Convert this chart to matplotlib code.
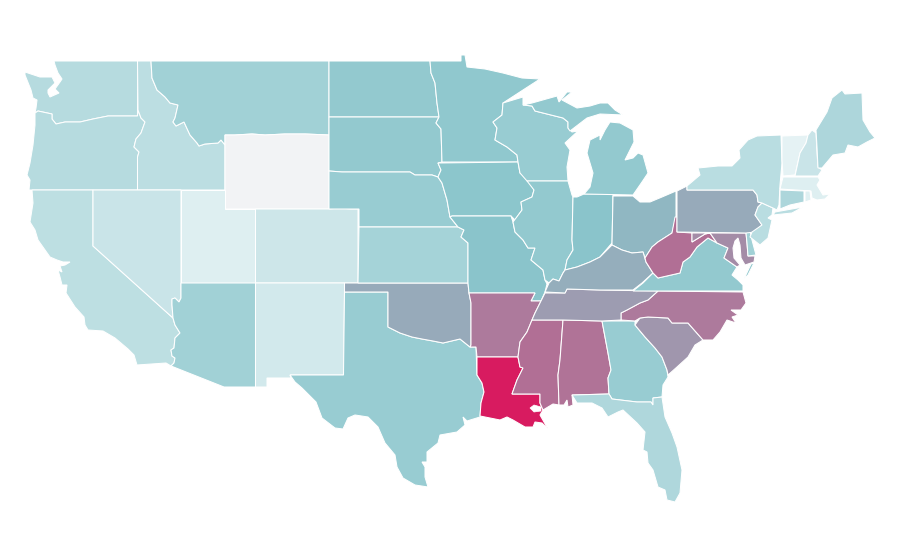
import matplotlib
matplotlib.use('Agg')
import matplotlib.pyplot as plt
from matplotlib.colors import LinearSegmentedColormap
from matplotlib.patches import Polygon

########################################################################################################################
# state outlines (x, y in picture pixels)
WA = [(54,61),(137.5,61),(137.5,116),(108,116),(93,119),(80,122),(65,122),(56,124),(52,119),(52,114),(38,111),(35,113),
      (36,108),(37,100),(33,98),(31,90),(25,75),(25,72),(40,77),(47,77),(52,77),(55,83),(48,90),(48,93),(50,97),(59,93),
      (55,89),(60,82),(62,79),(58,73),(55,65)]
OR = [(35,113),(38,111),(52,114),(52,119),(56,124),(65,122),(80,122),(93,119),(108,116),(137.5,116),(138,110),(141,118),
      (145,122),(141,133),(136,139),(134,147),(139,152),(137.5,157),(137.5,190),(29,190),(30,180),(27,175),(30,163),
      (33,145),(35,125)]
ID = [(137.5,61),(151,61),(152,78),(157,90),(165,97),(170,103),(178,105),(175,118),(173,122),(176,126),(184,122),
      (190,135),(197,143),(199,146),(205,144),(218,143),(221,140),(225,145),(225,190),(137.5,190),(137.5,157),(139,152),
      (134,147),(136,139),(141,133),(145,122),(141,118),(138,110)]
MT = [(151,61),(329,61),(329,135),(305,134),(285,134),(265,135),(252,134),(235,135),(225,135),(225,145),(221,140),
      (218,143),(205,144),(199,146),(197,143),(190,135),(184,122),(176,126),(173,122),(175,118),(178,105),(170,103),
      (165,97),(157,90),(152,78)]
WY = [(225,135),(235,135),(252,134),(265,135),(285,134),(305,134),(329,135),(329,209),(225,209)]
CA = [(32,190),(93,190),(93,246),(173,318),(175,325),(180,333),(175,338),(174,348),(171,350),(172,356),(175,358),
      (174,363),(171,366),(166,363),(137,365),(134,355),(128,349),(115,338),(103,331),(88,330),(85,325),(84,317),(75,307),
      (66,293),(67,285),(62,285),(60,277),(58,270),(62,272),(60,266),(65,265),(70,262),(63,262),(57,260),(50,257),(38,240),
      (35,230),(30,222),(33,203)]
NV = [(93,190),(181,190),(181,298),(179,302),(175,298),(172,299),(172,305),(173,318),(93,246)]
UT = [(181,190),(225,190),(225,209),(255.5,209),(255.5,283),(181,283)]
CO = [(255.5,209),(329,209),(340,208),(350,209),(358,209),(358,283),(255.5,283)]
AZ = [(181,283),(255.5,283),(255.5,387),(224,387),(171,366),(174,363),(175,358),(172,356),(171,350),(174,348),(175,338),
      (180,333),(175,325),(173,318),(172,305),(172,299),(175,298),(179,302),(181,298)]
NM = [(255.5,283),(344.5,283),(344.5,292),(343.5,375),(290,375),(291,378),(267,378),(267,387),(255.5,387)]
TX = [(344.5,292),(388,292),(388,327),(400,333),(412,337),(422,339),(433,341),(443,343),(460,339),(470,347),(476,347),
      (477,375),(482,383),(484,392),(481,403),(480,417),(467,421),(463,417),(465,425),(457,432),(440,435),(438,443),
      (427,452),(427,462),(422,462),(425,467),(425,477),(428,487),(415,485),(403,478),(397,467),(395,455),(385,443),
      (378,427),(368,417),(355,415),(348,418),(343,429),(335,428),(322,418),(316,402),(302,388),(295,382),(290,375),
      (343.5,375)]
OK = [(344.5,283),(468,283),(469,293),(471,303),(471,345),(470,347),(460,339),(443,343),(433,341),(422,339),(412,337),
      (400,333),(388,327),(388,292),(344.5,292)]
ND = [(329,61),(430,61),(431,73),(435,83),(437,103),(439,117),(329,117)]
SD = [(329,117),(439,117),(436,123),(441,129),(442,162),(438,163),(441,170),(438,177),(432,175),(420,175),(415,175),
      (410,172),(342,172),(329,171)]
NE = [(329,171),(342,172),(410,172),(415,175),(420,175),(432,175),(438,177),(442,183),(447,200),(450,217),(458,227),
      (359,227),(359,209),(329,209)]
KS = [(359,227),(458,227),(464,230),(461,237),(468,243),(468,283),(358,283)]
MN = [(430,61),(461,61),(461,55),(465,55),(467,67),(485,69),(503,73),(522,78),(540,79),(523,90),(503,103),(502,115),
      (493,122),(497,128),(495,140),(507,147),(517,155),(518,162),(442,162),(441,129),(436,123),(439,117),(437,103),
      (435,83),(431,73)]
IA = [(438,163),(518,162),(520,173),(527,178),(534,190),(532,197),(521,202),(522,210),(515,220),(511,216),(452,216),
      (450,217),(447,200),(442,183),(438,177),(441,170)]
MO = [(452,216),(511,216),(513,222),(515,232),(523,240),(528,248),(535,248),(531,260),(543,270),(545,280),(547,284),
      (545,292),(541,301),(531,301),(535,293),(469,293),(468,283),(468,243),(461,237),(464,230),(458,227),(450,217)]
AR = [(469,293),(535,293),(531,301),(541,301),(538,307),(535,313),(532,320),(527,332),(520,342),(518,357),(477,357),
      (476,347),(470,347),(471,345),(471,303)]
LA = [(477,357),(518,357),(520,367),(523,368),(517,380),(512,394),(540,394),(540,403),(543,410),(540,415),(548,429),
      (542,423),(535,422),(533,427),(525,427),(513,420),(507,417),(500,420),(480,416),(481,403),(484,392),(482,383),
      (477,375)]
MS = [(532,320),(563,320),(560,360),(558,375),(559,405),(553,404),(543,410),(540,403),(540,394),(512,394),(517,380),
      (523,368),(520,367),(518,357),(520,342),(527,332)]
AL = [(563,320),(602,321),(608,353),(611,370),(608,378),(609,394),(572,395),(573,405),(568,407),(567,400),(564,405),
      (559,405),(558,375),(560,360)]
GA = [(602,321),(635,321),(635,325),(645,337),(655,348),(662,357),(667,370),(668,377),(663,385),(662,397),(653,398),
      (653,405),(651,402),(637,402),(612,399),(609,394),(608,378),(611,370),(608,353)]
FL = [(572,395),(609,394),(612,399),(637,402),(651,402),(653,405),(653,398),(662,397),(665,417),(672,433),(677,447),
      (682,470),(680,493),(675,502),(667,500),(665,490),(658,487),(653,470),(648,463),(647,452),(643,450),(645,432),
      (637,423),(623,410),(618,412),(608,417),(602,408),(592,403),(577,403)]
SC = [(635,325),(640,318),(648,317),(668,318),(672,323),(688,323),(703,340),(695,345),(688,357),(677,367),(668,375),
      (667,370),(662,357),(655,348),(645,337)]
NC = [(621,320),(621,313),(627,310),(640,303),(648,300),(658,291),(743,292),(746,303),(741,310),(731,310),(738,315),
      (732,317),(736,323),(727,320),(720,332),(713,340),(703,340),(688,323),(672,323),(668,318),(648,317),(640,318),
      (635,321)]
TN = [(545,293),(565,293),(567,289),(600,290),(658,291),(648,300),(640,303),(627,310),(621,313),(621,320),(602,321),
      (563,320),(532,320),(535,313),(538,307),(541,301)]
KY = [(545,292),(549,283),(553,279),(559,281),(563,273),(565,270),(577,267),(590,262),(600,257),(612,245),(622,250),
      (632,253),(643,252),(646,262),(653,273),(642,283),(633,290),(600,290),(567,289),(565,293)]
VA = [(633,291),(643,283),(653,273),(658,278),(680,273),(683,262),(690,257),(697,247),(708,238),(717,243),(728,248),
      (724,258),(737,267),(732,275),(738,280),(743,285),(743,291)]
VA_SHORE = [(744,279),(751,264),(754,263),(748,275)]
WV = [(645,258),(652,247),(658,242),(672,233),(675,217),(677,217),(677,232),(692,233),(692,242),(705,234),(710,233),
      (717,243),(708,238),(697,247),(690,257),(683,262),(680,273),(658,278),(653,273),(646,262)]
MD = [(692,233),(746,233),(747,243),(748,256),(755,256),(754,262),(745,265),(741,258),(740,245),(738,238),(735,241),
      (733,248),(734,258),(740,265),(737,267),(724,258),(728,248),(717,243),(710,233),(705,234),(692,242)]
DE = [(746,233),(750,231),(752,240),(756,255),(748,256),(747,243)]
PA = [(687,186),(687,190),(753,190),(757,195),(758,202),(762,203),(758,207),(755,215),(762,225),(755,232),(746,233),
      (677,232),(677,191)]
NJ = [(762,203),(773,208),(772,215),(768,218),(772,220),(768,238),(760,245),(750,237),(752,232),(762,225),(755,215),
      (758,207)]
NY = [(687,190),(687,186),(700,175),(698,168),(718,166),(732,166),(740,158),(739,150),(748,140),(757,136),(781,135),
      (782,163),(780,185),(779,205),(777,210),(773,208),(762,203),(758,202),(757,195),(753,190)]
NY_ISLAND = [(775,212),(803,207),(792,213),(773,215)]
VT = [(782,136),(808,135),(806,143),(800,153),(795,175),(783,176),(782,160)]
NH = [(808,135),(812,130),(816,133),(817,153),(818,167),(822,170),(818,176),(795,176),(800,153),(806,143)]
ME = [(816,130),(827,112),(832,98),(842,90),(845,94),(862,93),(863,120),(870,132),(875,138),(867,142),(858,147),
      (848,145),(845,153),(833,155),(822,168),(818,168),(817,147)]
MA = [(783,177),(818,177),(820,180),(817,185),(823,195),(830,194),(825,199),(817,200),(812,198),(811,191),(780,189)]
CT = [(780,190),(804,191),(804,202),(790,205),(780,209)]
RI = [(805,191),(810,191),(811,200),(805,202)]
WI = [(503,103),(523,97),(523,105),(532,106),(535,111),(563,118),(568,122),(568,128),(572,132),(578,131),(565,143),
      (570,150),(567,167),(568,181),(527,181),(520,173),(518,162),(517,155),(507,147),(495,140),(497,128),(493,122),
      (502,115)]
IL = [(527,181),(568,181),(572,195),(573,197),(572,240),(573,250),(567,260),(565,270),(563,273),(559,281),(553,279),
      (549,283),(545,280),(543,270),(531,260),(535,248),(528,248),(523,240),(515,232),(513,222),(522,210),(521,202),
      (532,197),(534,190)]
IN = [(573,197),(577,197),(584,194),(613,194),(612,243),(600,257),(590,262),(577,267),(565,270),(567,260),(573,250),
      (572,240)]
OH = [(613,196),(633,196),(640,202),(650,202),(662,197),(676,191),(676,217),(672,233),(658,242),(652,247),(645,258),
      (643,252),(632,253),(622,250),(612,245)]
MI_UP = [(523,105),(532,103),(557,96),(559,102),(567,92),(572,92),(562,100),(577,108),(590,106),(600,103),(608,103),
         (615,110),(623,115),(600,114),(587,118),(570,131),(568,128),(568,122),(563,118),(535,111),(532,106)]
MI_LP = [(600,140),(605,130),(610,122),(620,123),(633,130),(634,142),(625,160),(633,158),(638,153),(643,155),(648,173),
         (642,182),(633,195),(584,194),(590,187),(593,173),(587,153),(590,140),(600,135)]

# shade of each state, 0 = lowest, 1 = highest
west_rates = {'WA': .29, 'OR': .29, 'ID': .26, 'MT': .39, 'WY': 0, 'CA': .255, 'NV': .20, 'UT': .10, 'CO': .18,
              'AZ': .39, 'NM': .16, 'TX': .43, 'OK': .58}
central_rates = {'ND': .46, 'SD': .46, 'NE': .43, 'KS': .37, 'MN': .47, 'IA': .49, 'MO': .50, 'AR': .72, 'LA': 1.0,
                 'WI': .43, 'IL': .46, 'IN': .50, 'MI_UP': .46, 'MI_LP': .46, 'OH': .54}
south_rates = {'MS': .75, 'AL': .74, 'GA': .43, 'FL': .325, 'SC': .64, 'NC': .72, 'TN': .62, 'KY': .57, 'VA': .46,
               'VA_SHORE': .46, 'WV': .75, 'MD': .665, 'DE': .39}
east_rates = {'PA': .58, 'NJ': .275, 'NY': .275, 'NY_ISLAND': .275, 'VT': .067, 'NH': .20, 'ME': .335, 'MA': .10,
              'CT': .335, 'RI': .09}

# Lake Pontchartrain
LAKE = [(530,408),(534,405),(541,407),(541,411),(534,412)]

rates = {**west_rates, **central_rates, **south_rates, **east_rates}
outlines = globals()

cmap = LinearSegmentedColormap.from_list('rate', [(0, '#f2f3f5'), (0.07, '#e4f2f4'), (0.5, '#8ac5cb'), (1, '#d81b60')])

fig = plt.figure(figsize=(9, 5.6), dpi=100, facecolor='white')
ax = fig.add_axes([0, 0, 1, 1])
ax.set_xlim(0, 900)
ax.set_ylim(560, 0)
ax.axis('off')

for state, rate in rates.items():
    ax.add_patch(Polygon(outlines[state], closed=True, facecolor=cmap(rate), edgecolor='white', linewidth=0.75))
ax.add_patch(Polygon(LAKE, closed=True, facecolor='white', edgecolor='white', linewidth=0.5))

fig.savefig('out.png', dpi=100)
